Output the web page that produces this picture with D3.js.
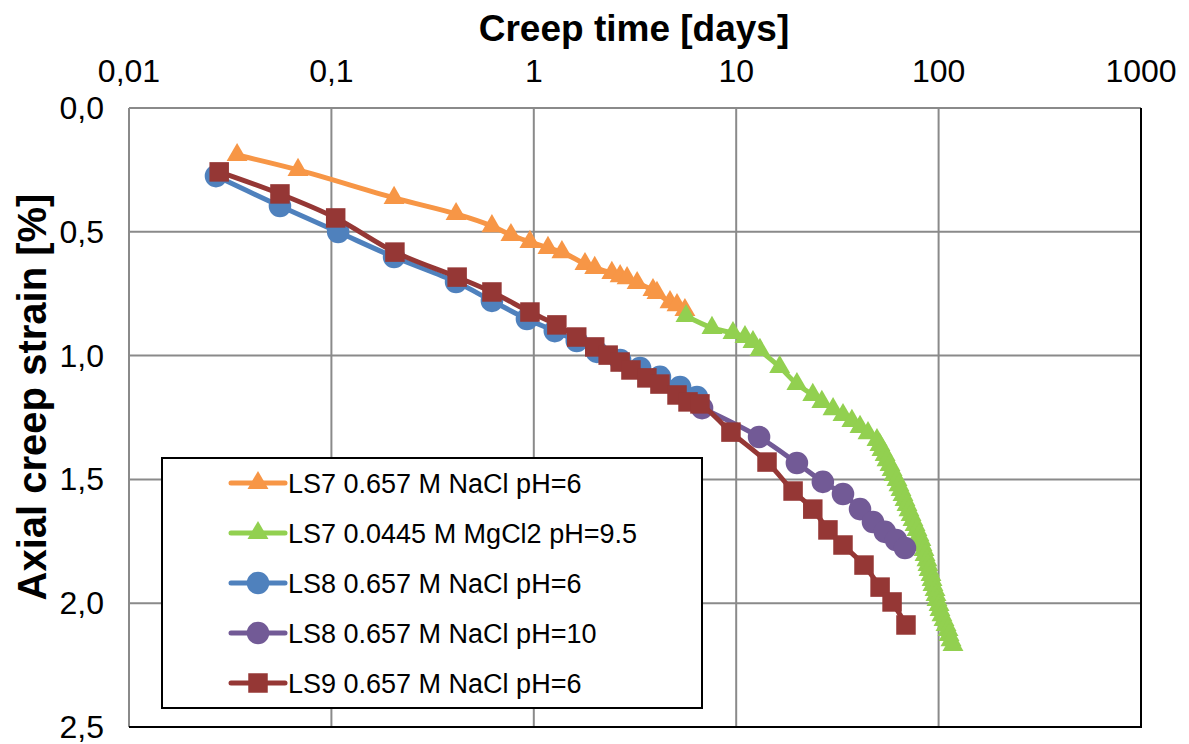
<!DOCTYPE html>
<html>
<head>
<meta charset="utf-8">
<script src="https://cdnjs.cloudflare.com/ajax/libs/d3/7.8.5/d3.min.js"></script>
<style>
body { margin: 0; background: #fff; }
text { font-family: "Liberation Sans", Arial, sans-serif; fill: #000; }
.grid line { stroke: #8a8a8a; stroke-width: 2; }
</style>
</head>
<body>
<script>
// Creep time [days] / axial creep strain [%]
var ls7NaClT = [0.0342, 0.0684, 0.204, 0.413, 0.621, 0.771, 0.957, 1.175, 1.377, 1.79, 2.0, 2.43, 2.67, 2.89, 3.24, 3.88, 4.06, 4.71, 5.1, 5.58]
var ls7NaClS = [0.19, 0.25, 0.363, 0.428, 0.477, 0.513, 0.541, 0.565, 0.582, 0.63, 0.646, 0.666, 0.679, 0.687, 0.707, 0.735, 0.747, 0.784, 0.796, 0.816]

var ls7MgT = [5.65, 7.59, 9.64, 11.05, 12.1, 13.1, 16.4, 19.95, 23.9, 26.5, 30.1, 33.7, 37.3, 40.9, 44.8,
  49.6, 51.3, 52.5, 54.4, 55.6, 57.5, 58.9, 60.2, 62.3, 63.7, 65.2, 66.7, 68.2, 69.8, 71.4, 73.1, 74.7, 76.5, 78.2, 80.0,
  81.8, 82.8, 84.7, 85.7, 87.6, 88.6, 89.7, 91.7, 92.8, 93.8, 96.0, 97.1, 98.2, 100.5, 101.6, 103.9, 106.3, 108.8, 111.3, 112.6, 115.2, 117.8]
var ls7MgS = [0.84, 0.888, 0.909, 0.925, 0.945, 0.977, 1.046, 1.115, 1.159, 1.187, 1.216, 1.24, 1.264, 1.288, 1.313,
  1.341, 1.361, 1.381, 1.401, 1.422, 1.442, 1.462, 1.482, 1.502, 1.523, 1.543, 1.563, 1.583, 1.603, 1.624, 1.644, 1.664, 1.684, 1.704, 1.725,
  1.745, 1.765, 1.785, 1.805, 1.826, 1.846, 1.866, 1.886, 1.906, 1.926, 1.947, 1.967, 1.987, 2.007, 2.027, 2.048, 2.068, 2.088, 2.108, 2.128, 2.149, 2.169]

var ls8pH6T = [0.0269, 0.0557, 0.108, 0.204, 0.413, 0.621, 0.925, 1.27, 1.63, 2.05, 2.67, 3.35, 4.2, 5.28, 6.4]
var ls8pH6S = [0.275, 0.396, 0.501, 0.602, 0.703, 0.779, 0.852, 0.901, 0.941, 0.985, 1.018, 1.05, 1.086, 1.127, 1.167]

var ls8pH10T = [6.78, 12.97, 19.95, 26.8, 33.7, 40.9, 47.4, 54.3, 61.6, 68.2]
var ls8pH10S = [1.212, 1.329, 1.434, 1.51, 1.559, 1.62, 1.672, 1.712, 1.745, 1.777]

var ls9T = [0.0279, 0.0557, 0.105, 0.206, 0.418, 0.621, 0.957, 1.30, 1.63, 2.0, 2.33, 2.67, 3.02, 3.62, 4.2, 5.1, 5.78, 6.62, 9.42, 14.2, 19.1, 23.9, 28.4, 33.7, 42.8, 51.4, 58.9, 69.0]
var ls9S = [0.258, 0.347, 0.444, 0.582, 0.683, 0.743, 0.824, 0.876, 0.925, 0.965, 0.998, 1.026, 1.058, 1.09, 1.115, 1.159, 1.187, 1.195, 1.309, 1.43, 1.547, 1.62, 1.704, 1.765, 1.846, 1.935, 1.995, 2.088]

var seriesNames = ["LS7 0.657 M NaCl pH=6", "LS7 0.0445 M MgCl2 pH=9.5", "LS8 0.657 M NaCl pH=6", "LS8 0.657 M NaCl pH=10", "LS9 0.657 M NaCl pH=6"]
var seriesColors = ["#f79646", "#92d050", "#4f81bd", "#725a96", "#953735"]
var seriesMarkers = ["triangle", "triangle", "circle", "circle", "square"]

var xTicks = [0.01, 0.1, 1, 10, 100, 1000]
var xTickLabels = ["0,01", "0,1", "1", "10", "100", "1000"]
var yTicks = [0, 0.5, 1.0, 1.5, 2.0, 2.5]
var yTickLabels = ["0,0", "0,5", "1,0", "1,5", "2,0", "2,5"]

var series = [
  [ls7NaClT, ls7NaClS], [ls7MgT, ls7MgS], [ls8pH6T, ls8pH6S], [ls8pH10T, ls8pH10S], [ls9T, ls9S]
].map(function (p, i) {
  return {
    name: seriesNames[i], color: seriesColors[i], marker: seriesMarkers[i],
    pts: p[0].map(function (t, j) { return [t, p[1][j]] })
  }
})

var W = 1189, H = 744
var m = {left: 129, right: 48, top: 108, bottom: 17}

var x = d3.scaleLog().domain([0.01, 1000]).range([m.left, W - m.right])
var y = d3.scaleLinear().domain([0, 2.5]).range([m.top, H - m.bottom])

var svg = d3.select("body").append("svg").attr("width", W).attr("height", H)

// grid
var grid = svg.append("g").attr("class", "grid")
grid.selectAll(".v").data(xTicks.slice(0, -1)).enter().append("line")
  .attr("x1", d => x(d)).attr("x2", d => x(d))
  .attr("y1", y(0)).attr("y2", y(2.5))
grid.selectAll(".h").data(yTicks.slice(0, -1)).enter().append("line")
  .attr("x1", x(0.01)).attr("x2", x(1000))
  .attr("y1", d => y(d)).attr("y2", d => y(d))

// right and bottom frame
svg.append("path")
  .attr("d", "M" + x(1000) + "," + y(0) + "V" + y(2.5) + "H" + x(0.01))
  .attr("fill", "none").attr("stroke", "#000").attr("stroke-width", 2)

// tick labels
svg.selectAll(".xl").data(xTicks).enter().append("text")
  .attr("x", d => x(d)).attr("y", 82)
  .attr("text-anchor", "middle").style("font-size", "32px")
  .text((d, i) => xTickLabels[i])
svg.selectAll(".yl").data(yTicks).enter().append("text")
  .attr("x", 104).attr("y", d => y(d) + 11)
  .attr("text-anchor", "end").style("font-size", "32px")
  .text((d, i) => yTickLabels[i])

// axis titles
svg.append("text").attr("x", 634).attr("y", 41)
  .attr("text-anchor", "middle").style("font-size", "37px").style("font-weight", "bold")
  .text("Creep time [days]")
svg.append("text").attr("transform", "translate(46,397) rotate(-90)")
  .attr("text-anchor", "middle").style("font-size", "40px").style("font-weight", "bold")
  .text("Axial creep strain [%]")

var line = d3.line()
  .x(d => x(d[0])).y(d => y(d[1]))
  .curve(d3.curveCatmullRom)

function sym(kind) {
  if (kind == "circle") return d3.symbol().type(d3.symbolCircle).size(400)
  if (kind == "square") return d3.symbol().type(d3.symbolSquare).size(380)
  return d3.symbol().type(d3.symbolTriangle).size(190)
}

series.forEach(function (s) {
  var g = svg.append("g")
  g.append("path").datum(s.pts)
    .attr("d", line)
    .attr("fill", "none").attr("stroke", s.color).attr("stroke-width", 5)
    .attr("stroke-linejoin", "round")
  g.selectAll("path.mk").data(s.pts).enter().append("path")
    .attr("class", "mk")
    .attr("d", sym(s.marker))
    .attr("transform", d => "translate(" + x(d[0]) + "," + y(d[1]) + ")")
    .attr("fill", s.color)
})

// legend
var lg = svg.append("g")
lg.append("rect").attr("x", 162).attr("y", 458).attr("width", 540).attr("height", 250)
  .attr("fill", "#fff").attr("stroke", "#000").attr("stroke-width", 2)
var rows = lg.selectAll(".row").data(series).enter().append("g")
  .attr("transform", (d, i) => "translate(0," + (483 + i * 50) + ")")
rows.append("line").attr("x1", 231).attr("x2", 285).attr("y1", 0).attr("y2", 0)
  .attr("stroke", d => d.color).attr("stroke-width", 5).attr("stroke-linecap", "round")
rows.append("path").attr("d", d => sym(d.marker)()).attr("transform", "translate(258,0)")
  .attr("fill", d => d.color)
rows.append("text").attr("x", 288).attr("y", 10).style("font-size", "27px")
  .text(d => d.name)
</script>
</body>
</html>
